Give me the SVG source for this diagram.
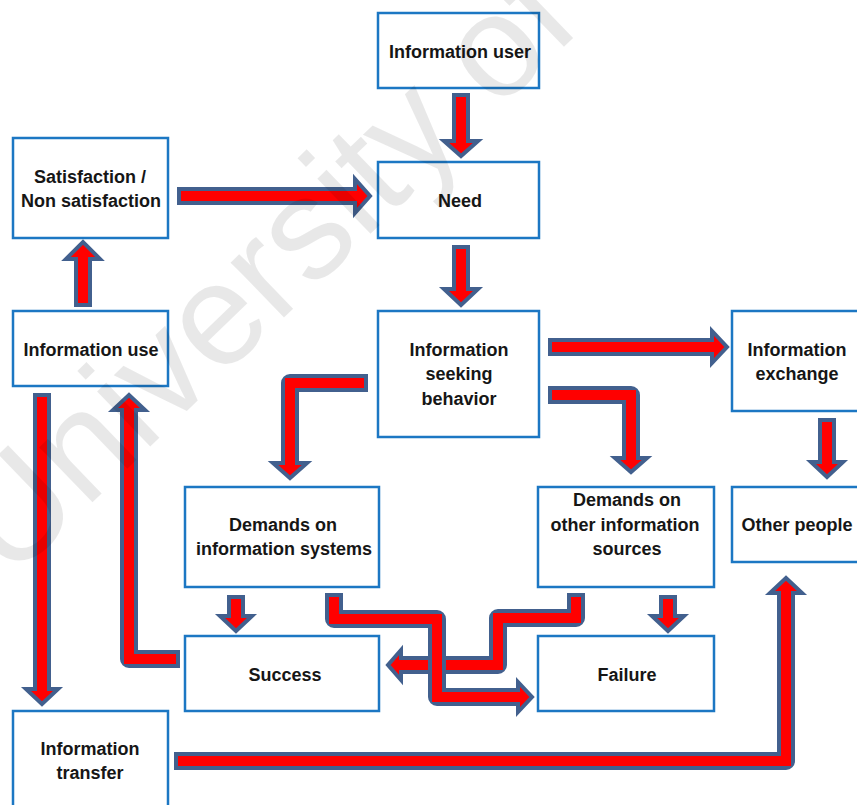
<svg xmlns="http://www.w3.org/2000/svg" width="857" height="805" viewBox="0 0 857 805">
  <style>
    .box { fill: #ffffff; stroke: #1c77c3; stroke-width: 2.5; }
    .lbl { font-family: "Liberation Sans", Arial, sans-serif; font-weight: bold; font-size: 18px; fill: #161616; text-anchor: middle; }
    .wm { font-family: "Liberation Sans", Arial, sans-serif; font-size: 145px; fill: #000000; fill-opacity: 0.09; }
    .sh-o { fill: none; stroke: #42608e; stroke-width: 18; stroke-linejoin: round; }
    .sh-i { fill: none; stroke: #ff0000; stroke-width: 10; stroke-linejoin: miter; }
    .hd { fill: #ff0000; stroke: #42608e; stroke-width: 4; stroke-linejoin: miter; }
  </style>

  <rect width="857" height="805" fill="#ffffff"/>

  <!-- nodes -->
  <g id="information-user">
    <rect class="box" x="378" y="13" width="161" height="75"/>
    <text class="lbl" x="460" y="58">Information user</text>
  </g>
  <g id="need">
    <rect class="box" x="378" y="162" width="161" height="76"/>
    <text class="lbl" x="460" y="207">Need</text>
  </g>
  <g id="satisfaction">
    <rect class="box" x="13" y="138" width="155" height="100"/>
    <text class="lbl" x="90" y="183">Satisfaction /</text>
    <text class="lbl" x="91" y="207">Non satisfaction</text>
  </g>
  <g id="information-use">
    <rect class="box" x="13" y="311" width="155" height="75"/>
    <text class="lbl" x="91" y="356">Information use</text>
  </g>
  <g id="information-seeking-behavior">
    <rect class="box" x="378" y="311" width="161" height="126"/>
    <text class="lbl" x="459" y="356">Information</text>
    <text class="lbl" x="459" y="380">seeking</text>
    <text class="lbl" x="459" y="405">behavior</text>
  </g>
  <g id="information-exchange">
    <rect class="box" x="732" y="311" width="160" height="100"/>
    <text class="lbl" x="797" y="356">Information</text>
    <text class="lbl" x="797" y="380">exchange</text>
  </g>
  <g id="demands-information-systems">
    <rect class="box" x="185" y="487" width="194" height="100"/>
    <text class="lbl" x="283" y="531">Demands on</text>
    <text class="lbl" x="284" y="555">information systems</text>
  </g>
  <g id="demands-other-sources">
    <rect class="box" x="538" y="487" width="176" height="100"/>
    <text class="lbl" x="627" y="506">Demands on</text>
    <text class="lbl" x="625" y="531">other information</text>
    <text class="lbl" x="627" y="555">sources</text>
  </g>
  <g id="other-people">
    <rect class="box" x="732" y="487" width="160" height="75"/>
    <text class="lbl" x="797" y="531">Other people</text>
  </g>
  <g id="success">
    <rect class="box" x="185" y="636" width="194" height="75"/>
    <text class="lbl" x="285" y="681">Success</text>
  </g>
  <g id="failure">
    <rect class="box" x="538" y="636" width="176" height="75"/>
    <text class="lbl" x="627" y="681">Failure</text>
  </g>
  <g id="information-transfer">
    <rect class="box" x="13" y="711" width="155" height="110"/>
    <text class="lbl" x="90" y="755">Information</text>
    <text class="lbl" x="90" y="779">transfer</text>
  </g>

  <!-- connectors: block arrows (outlined shaft, outlined head, red core) -->
  <g id="connectors">
    <!-- information user -> need -->
    <g>
      <path class="sh-o" d="M461,93 V141"/>
      <polygon class="hd" points="444,141 478,141 461,156"/>
      <path class="sh-i" d="M461,97 V146"/>
    </g>
    <!-- need -> information seeking behavior -->
    <g>
      <path class="sh-o" d="M461,245 V289"/>
      <polygon class="hd" points="444,289 478,289 461,305"/>
      <path class="sh-i" d="M461,249 V294"/>
    </g>
    <!-- satisfaction -> need -->
    <g>
      <path class="sh-o" d="M177,196 H355"/>
      <polygon class="hd" points="355,179 355,213 370,196"/>
      <path class="sh-i" d="M181,196 H360"/>
    </g>
    <!-- information use -> satisfaction -->
    <g>
      <path class="sh-o" d="M83,307 V259"/>
      <polygon class="hd" points="66,259 100,259 83,242"/>
      <path class="sh-i" d="M83,303 V254"/>
    </g>
    <!-- seeking behavior -> information exchange -->
    <g>
      <path class="sh-o" d="M548,347 H712"/>
      <polygon class="hd" points="712,331 712,363 727,347"/>
      <path class="sh-i" d="M552,347 H717"/>
    </g>
    <!-- seeking behavior -> demands on other information sources -->
    <g>
      <path class="sh-o" d="M548,395 H631 V458"/>
      <polygon class="hd" points="615,458 647,458 631,472"/>
      <path class="sh-i" d="M552,395 H631 V463"/>
    </g>
    <!-- seeking behavior -> demands on information systems -->
    <g>
      <path class="sh-o" d="M368,383 H290 V463"/>
      <polygon class="hd" points="273,463 307,463 290,478"/>
      <path class="sh-i" d="M364,383 H290 V468"/>
    </g>
    <!-- information exchange -> other people -->
    <g>
      <path class="sh-o" d="M827,418 V462"/>
      <polygon class="hd" points="811,462 843,462 827,477"/>
      <path class="sh-i" d="M827,422 V467"/>
    </g>
    <!-- demands on information systems -> success -->
    <g>
      <path class="sh-o" d="M236,595 V616"/>
      <polygon class="hd" points="220,616 252,616 236,631"/>
      <path class="sh-i" d="M236,599 V621"/>
    </g>
    <!-- demands on other sources -> failure -->
    <g>
      <path class="sh-o" d="M668,595 V616"/>
      <polygon class="hd" points="652,616 684,616 668,631"/>
      <path class="sh-i" d="M668,599 V621"/>
    </g>
    <!-- demands on other sources -> success -->
    <g>
      <path class="sh-o" d="M576,593 V618 H498 V665 H401"/>
      <polygon class="hd" points="401,650 401,680 388,665"/>
      <path class="sh-i" d="M576,597 V618 H498 V665 H396"/>
    </g>
    <!-- demands on information systems -> failure -->
    <g>
      <path class="sh-o" d="M334,593 V619 H437 V697 H518"/>
      <polygon class="hd" points="518,682 518,712 532,697"/>
      <path class="sh-i" d="M334,597 V619 H437 V697 H523"/>
    </g>
    <!-- success -> information use -->
    <g>
      <path class="sh-o" d="M180,659 H129 V410"/>
      <polygon class="hd" points="113,410 145,410 129,395"/>
      <path class="sh-i" d="M176,659 H129 V405"/>
    </g>
    <!-- information use -> information transfer -->
    <g>
      <path class="sh-o" d="M42,393 V689"/>
      <polygon class="hd" points="26,689 58,689 42,704"/>
      <path class="sh-i" d="M42,397 V694"/>
    </g>
    <!-- information transfer -> other people -->
    <g>
      <path class="sh-o" d="M174,761 H786 V593"/>
      <polygon class="hd" points="770,593 802,593 786,578"/>
      <path class="sh-i" d="M178,761 H786 V588"/>
    </g>
  </g>

  <!-- translucent watermark laid over the whole sheet -->
  <text class="wm" transform="translate(10,582) rotate(-44)">University of</text>
</svg>
